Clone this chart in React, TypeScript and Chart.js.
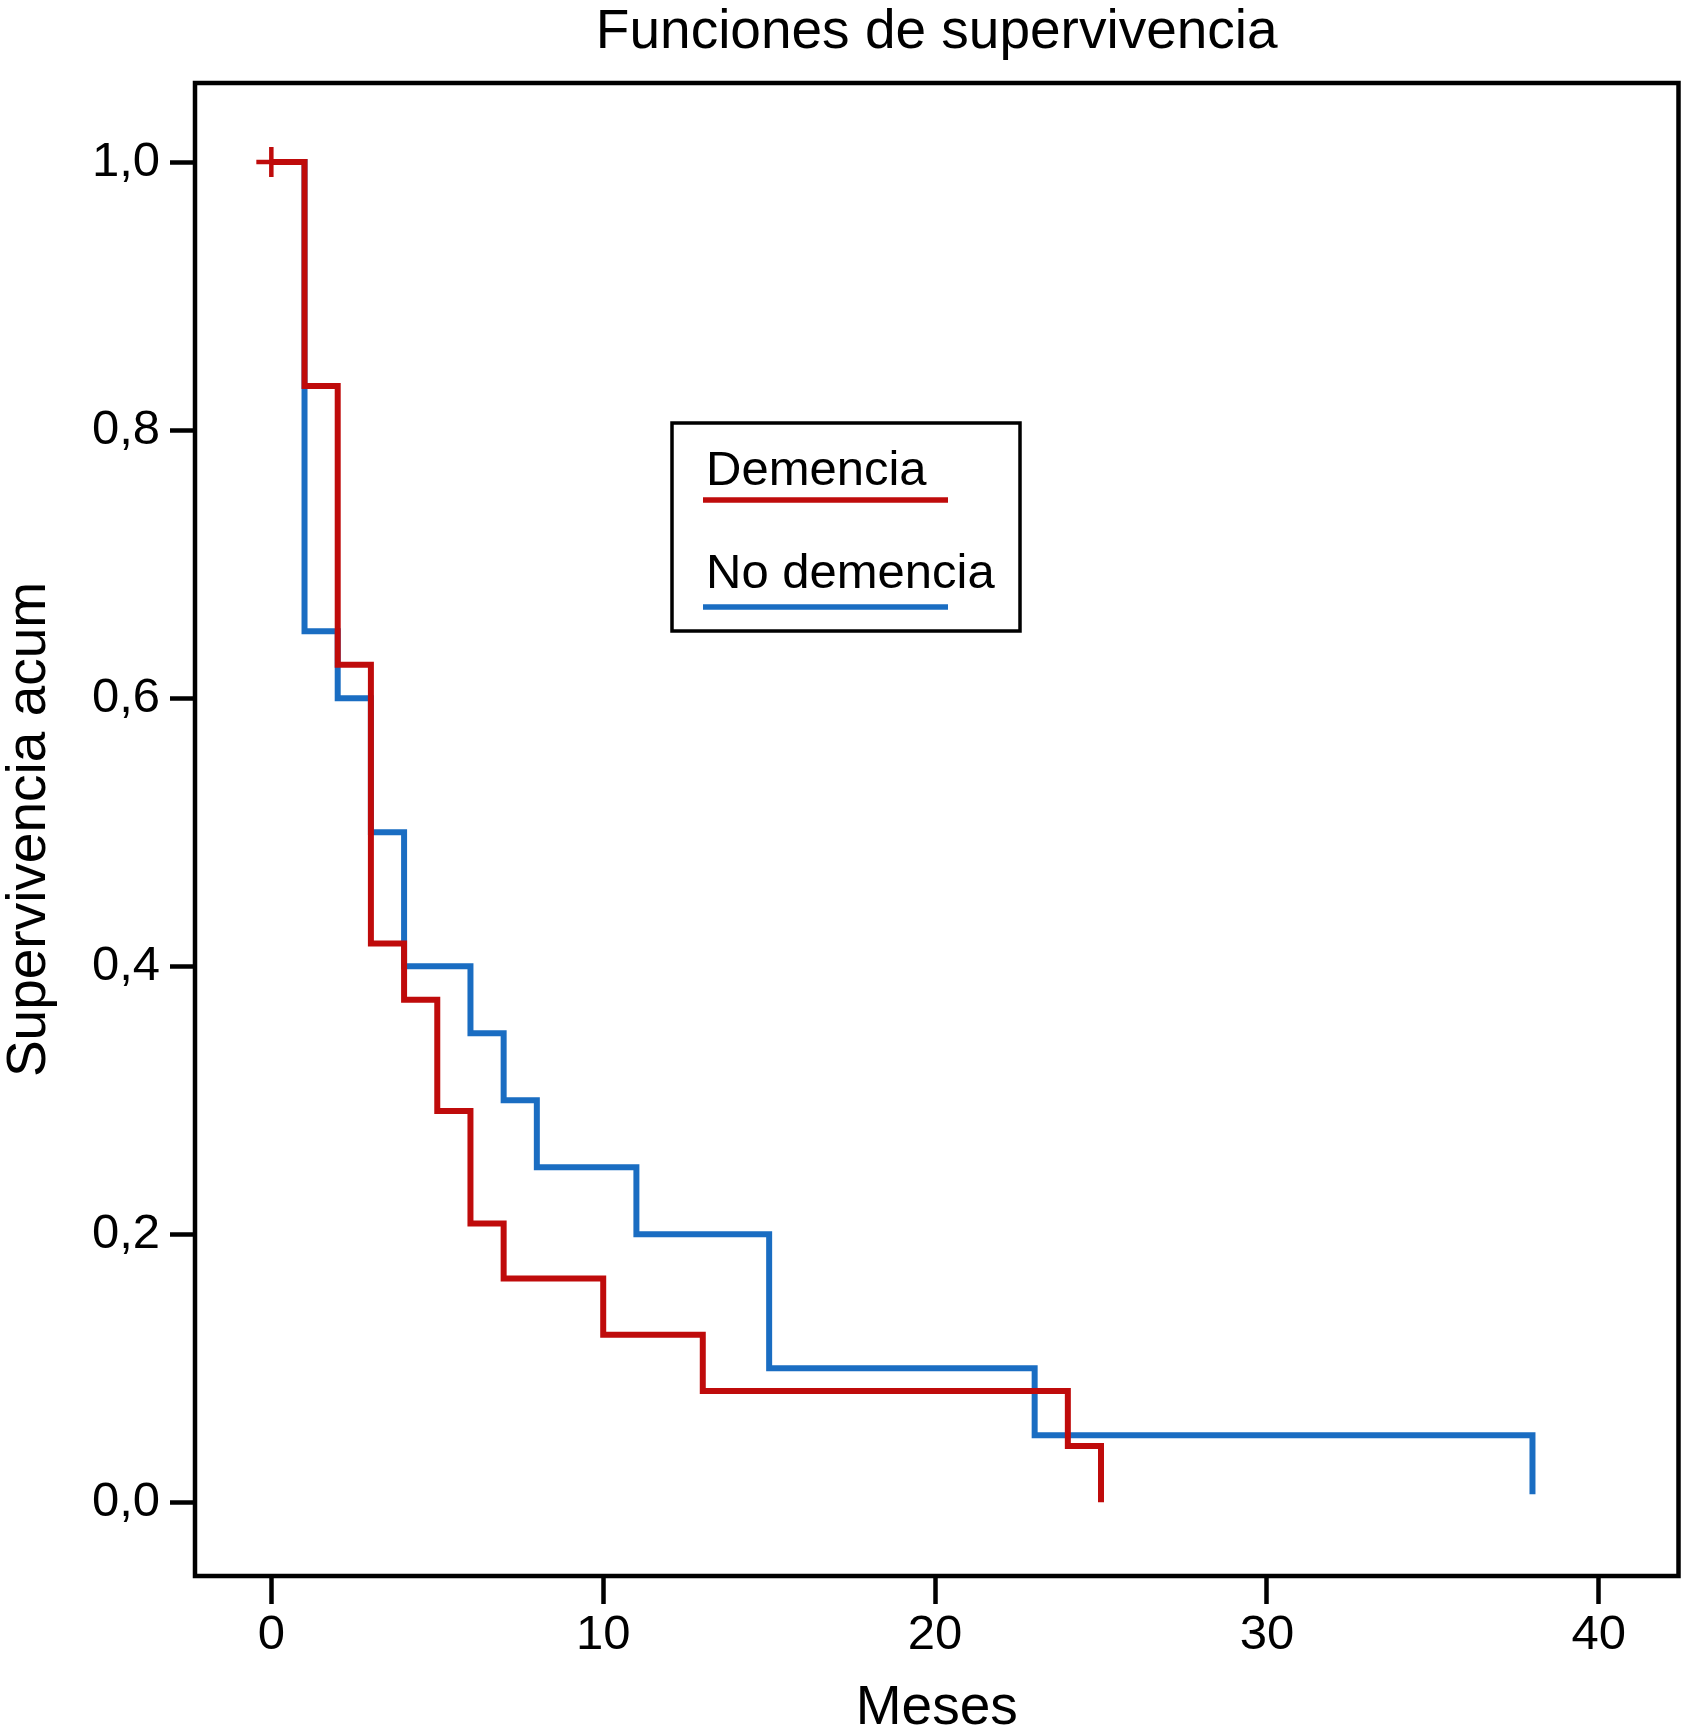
import { useEffect, useRef } from 'react'
import { Chart, registerables, type ChartConfiguration, type Plugin } from 'chart.js'

Chart.register(...registerables)

const FONT = '"Liberation Sans", Arial, sans-serif'

// Kaplan-Meier curves
const demenciaTimes = [0, 1, 2, 3, 4, 5, 6, 7, 10, 13, 24, 25]
const demenciaSurv = [1, 0.833, 0.625, 0.417, 0.375, 0.292, 0.208, 0.167, 0.125, 0.083, 0.042, 0]

const noDemenciaTimes = [0, 1, 2, 3, 4, 6, 7, 8, 11, 15, 23, 38]
const noDemenciaSurv = [1, 0.65, 0.6, 0.5, 0.4, 0.35, 0.3, 0.25, 0.2, 0.1, 0.05, 0.006]

// censored cases (drawn as +)
const censorTimes = [0]
const censorSurv = [1]

const xTicks = [0, 10, 20, 30, 40]
const yTicks = [0, 0.2, 0.4, 0.6, 0.8, 1]
const yTickLabels = ['0,0', '0,2', '0,4', '0,6', '0,8', '1,0']

const RED = '#BF0B0B'
const BLUE = '#1A6DC2'

const toPoints = (xs: number[], ys: number[]) => xs.map((x, i) => ({ x, y: ys[i] }))

// box round the plot + the legend with the sample line under each label
const framePlugin: Plugin = {
  id: 'frame',
  afterDraw(chart) {
    const { ctx, chartArea: a } = chart
    ctx.save()
    ctx.strokeStyle = '#000'
    ctx.lineWidth = 4.5
    ctx.strokeRect(a.left, a.top, a.right - a.left, a.bottom - a.top)

    const bx = a.left + 477
    const by = a.top + 340
    ctx.lineWidth = 3.5
    ctx.strokeRect(bx, by, 348, 208)

    const items = [
      { label: chart.data.datasets[1].label ?? '', color: RED },
      { label: chart.data.datasets[2].label ?? '', color: BLUE },
    ]
    ctx.font = `49px ${FONT}`
    ctx.textAlign = 'left'
    ctx.textBaseline = 'alphabetic'
    items.forEach((it, i) => {
      const base = by + 62 + i * 103
      ctx.fillStyle = '#000'
      ctx.fillText(it.label, bx + 34, base)
      ctx.strokeStyle = it.color
      ctx.lineWidth = 5.5
      ctx.beginPath()
      ctx.moveTo(bx + 31, base + 15 + i * 4)
      ctx.lineTo(bx + 276, base + 15 + i * 4)
      ctx.stroke()
    })
    ctx.restore()
  },
}

export default function App() {
  const ref = useRef<HTMLCanvasElement>(null)
  const chartRef = useRef<Chart | null>(null)

  useEffect(() => {
    document.body.style.margin = '0'
    if (!ref.current) return
    chartRef.current?.destroy()

    const config: ChartConfiguration<'line'> = {
      type: 'line',
      data: {
        datasets: [
          {
            label: 'Censurado',
            data: toPoints(censorTimes, censorSurv),
            showLine: false,
            pointStyle: 'cross',
            pointRadius: 15,
            pointBorderWidth: 4.5,
            pointBorderColor: RED,
            borderColor: RED,
          },
          {
            label: 'Demencia',
            data: toPoints(demenciaTimes, demenciaSurv),
            stepped: 'before',
            borderColor: RED,
            borderWidth: 6,
            pointRadius: 0,
            fill: false,
            borderJoinStyle: 'miter',
          },
          {
            label: 'No demencia',
            data: toPoints(noDemenciaTimes, noDemenciaSurv),
            stepped: 'before',
            borderColor: BLUE,
            borderWidth: 6,
            pointRadius: 0,
            fill: false,
            borderJoinStyle: 'miter',
          },
        ],
      },
      options: {
        animation: false,
        responsive: true,
        maintainAspectRatio: false,
        devicePixelRatio: 1,
        layout: { padding: { left: 0, right: 2, top: 0, bottom: 0 } },
        plugins: {
          legend: { display: false },
          tooltip: { enabled: false },
          title: {
            display: true,
            text: 'Funciones de supervivencia',
            color: '#000',
            fullSize: false,
            font: { family: FONT, size: 55, weight: 'normal', lineHeight: 1.1 },
            padding: { top: 3, bottom: 19.5 },
          },
        },
        scales: {
          x: {
            type: 'linear',
            min: -2.3,
            max: 42.4,
            afterBuildTicks: axis => { axis.ticks = xTicks.map(v => ({ value: v })) },
            afterFit: axis => { axis.height = 160 },
            grid: { drawOnChartArea: false, drawTicks: true, tickLength: 28, tickWidth: 4.5, tickColor: '#000' },
            border: { display: false },
            ticks: {
              color: '#000',
              padding: 2,
              maxRotation: 0,
              font: { family: FONT, size: 49, lineHeight: 1.2 },
              callback: v => String(v),
            },
            title: {
              display: true,
              text: 'Meses',
              color: '#000',
              font: { family: FONT, size: 55, lineHeight: 1.0 },
              padding: { top: 0, bottom: 0 },
            },
          },
          y: {
            type: 'linear',
            min: -0.055,
            max: 1.059,
            afterBuildTicks: axis => { axis.ticks = yTicks.map(v => ({ value: v })) },
            afterFit: axis => { axis.width = 195 },
            grid: { drawOnChartArea: false, drawTicks: true, tickLength: 25, tickWidth: 4.5, tickColor: '#000' },
            border: { display: false },
            ticks: {
              color: '#000',
              padding: 10,
              font: { family: FONT, size: 49, lineHeight: 1.2 },
              callback: v => {
                const i = yTicks.findIndex(t => Math.abs(t - Number(v)) < 1e-9)
                return i >= 0 ? yTickLabels[i] : ''
              },
            },
            title: {
              display: true,
              text: 'Supervivencia acum',
              color: '#000',
              font: { family: FONT, size: 55, lineHeight: 1.1 },
              padding: { top: 0, bottom: 0 },
            },
          },
        },
      },
      plugins: [framePlugin],
    }

    chartRef.current = new Chart(ref.current, config)
    return () => chartRef.current?.destroy()
  }, [])

  return (
    <div style={{ position: 'relative', width: '1698px', height: '1736px', background: '#fff' }}>
      <canvas ref={ref} />
    </div>
  )
}
